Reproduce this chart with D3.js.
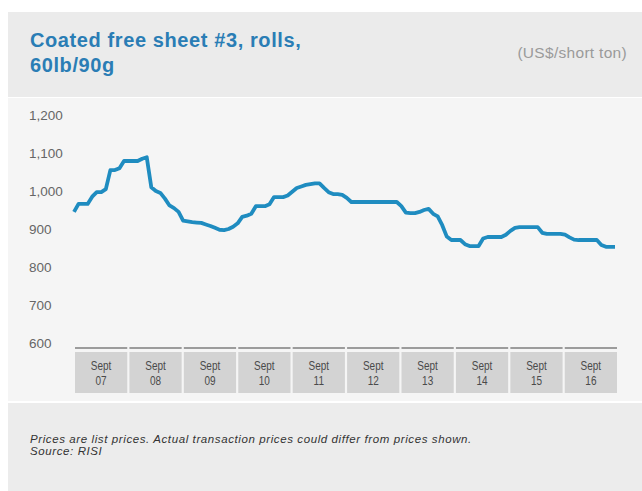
<!DOCTYPE html>
<html>
<head>
<meta charset="utf-8">
<script src="https://cdn.jsdelivr.net/npm/d3@7"></script>
<style>
  body { margin: 0; background: #fff; }
  svg { display: block; }
</style>
</head>
<body>
<div id="chart"></div>
<script>
// Monthly list prices, US$/short ton, Jan-Dec of each year
const prices07 = [945, 966, 966, 966, 985, 997, 997, 1005, 1055, 1055, 1060, 1079];
const prices08 = [1079, 1079, 1079, 1085, 1089, 1010, 1000, 995, 980, 962, 955, 945];
const prices09 = [922, 920, 918, 917, 916, 912, 908, 903, 898, 897, 900, 906];
const prices10 = [915, 932, 935, 940, 960, 960, 960, 965, 984, 984, 984, 988];
const prices11 = [998, 1008, 1012, 1016, 1018, 1020, 1020, 1008, 997, 992, 992, 990];
const prices12 = [982, 971, 971, 971, 971, 971, 971, 971, 971, 971, 971, 971];
const prices13 = [960, 943, 942, 942, 945, 950, 953, 940, 933, 910, 880, 871];
const prices14 = [871, 871, 860, 855, 855, 855, 875, 879, 879, 879, 879, 885];
const prices15 = [895, 903, 905, 905, 905, 905, 905, 890, 887, 887, 887, 887];
const prices16 = [885, 878, 872, 871, 871, 871, 871, 871, 858, 853, 853, 853];

const years = ["07", "08", "09", "10", "11", "12", "13", "14", "15", "16"];
const yTicks = [600, 700, 800, 900, 1000, 1100, 1200];

const titleLines = ["Coated free sheet #3, rolls,", "60lb/90g"];
const unitLabel = "(US$/short ton)";
const footLines = ["Prices are list prices. Actual transaction prices could differ from prices shown.",
                   "Source: RISI"];

const prices = [].concat(prices07, prices08, prices09, prices10, prices11,
                         prices12, prices13, prices14, prices15, prices16);

const W = 642, H = 491;
const font = "Liberation Sans, Arial, sans-serif";
const svg = d3.select("#chart").append("svg")
    .attr("width", W).attr("height", H);

// panels
svg.append("rect").attr("x", 8).attr("y", 12).attr("width", W - 8).attr("height", 85).attr("fill", "#ebebeb");
svg.append("rect").attr("x", 8).attr("y", 98).attr("width", W - 8).attr("height", 303).attr("fill", "#f5f5f5");
svg.append("rect").attr("x", 8).attr("y", 403).attr("width", W - 8).attr("height", 88).attr("fill", "#ececec");

// title
svg.append("text")
    .attr("y", 47)
    .attr("font-family", font)
    .attr("font-size", 20).attr("font-weight", "bold")
    .attr("letter-spacing", 0.6)
    .attr("fill", "#2a7db5")
    .selectAll("tspan").data(titleLines).join("tspan")
    .attr("x", 30).attr("dy", (d, i) => i ? 25 : 0)
    .text(d => d);

svg.append("text")
    .attr("x", 627).attr("y", 58)
    .attr("text-anchor", "end")
    .attr("font-family", font)
    .attr("font-size", 15.5).attr("letter-spacing", 0.3)
    .attr("fill", "#9a9a9a")
    .text(unitLabel);

// scales
const x = d3.scaleLinear().domain([0, prices.length - 1]).range([74, 615]);
const y = d3.scaleLinear().domain([600, 1200]).range([343, 115]);
const band = d3.scaleBand().domain(years).range([75, 617]).paddingInner(0.04);

// y axis
const yAxis = svg.append("g")
    .call(d3.axisLeft(y).tickValues(yTicks).tickSize(0).tickFormat(d3.format(",")));
yAxis.select(".domain").remove();
yAxis.selectAll("text")
    .attr("x", 29).attr("text-anchor", "start")
    .attr("font-family", font)
    .attr("font-size", 13.5).attr("fill", "#666");

// x axis bands
const xg = svg.append("g");
xg.selectAll("rect.rule").data(years).join("rect")
    .attr("class", "rule")
    .attr("x", d => band(d)).attr("y", 347)
    .attr("width", band.bandwidth()).attr("height", 2)
    .attr("fill", "#9c9c9c");
xg.selectAll("rect.cell").data(years).join("rect")
    .attr("class", "cell")
    .attr("x", d => band(d)).attr("y", 352)
    .attr("width", band.bandwidth()).attr("height", 41)
    .attr("fill", "#d3d3d3");

// two-line labels, each line its own text so they don't overlap
const labelRows = [d => "Sept", d => d];
labelRows.forEach((fmt, row) => {
    xg.selectAll("text.row" + row).data(years).join("text")
        .attr("class", "row" + row)
        .attr("transform", d => `translate(${band(d) + band.bandwidth() / 2},${370 + row * 14.5}) scale(0.8,1)`)
        .attr("text-anchor", "middle")
        .attr("font-family", font)
        .attr("font-size", 12.5).attr("fill", "#4a4a4a")
        .text(fmt);
});

// price line
const line = d3.line()
    .x((d, i) => x(i))
    .y(d => y(d));

svg.append("path")
    .datum(prices)
    .attr("d", line)
    .attr("fill", "none")
    .attr("stroke", "#1f8cc0")
    .attr("stroke-width", 3.8)
    .attr("stroke-linejoin", "round");

// footnote
svg.append("text")
    .attr("y", 443)
    .attr("font-family", font)
    .attr("font-size", 11.5).attr("font-style", "italic")
    .attr("letter-spacing", 0.6)
    .attr("fill", "#333")
    .selectAll("tspan").data(footLines).join("tspan")
    .attr("x", 30).attr("dy", (d, i) => i ? 12 : 0)
    .text(d => d);
</script>
</body>
</html>
